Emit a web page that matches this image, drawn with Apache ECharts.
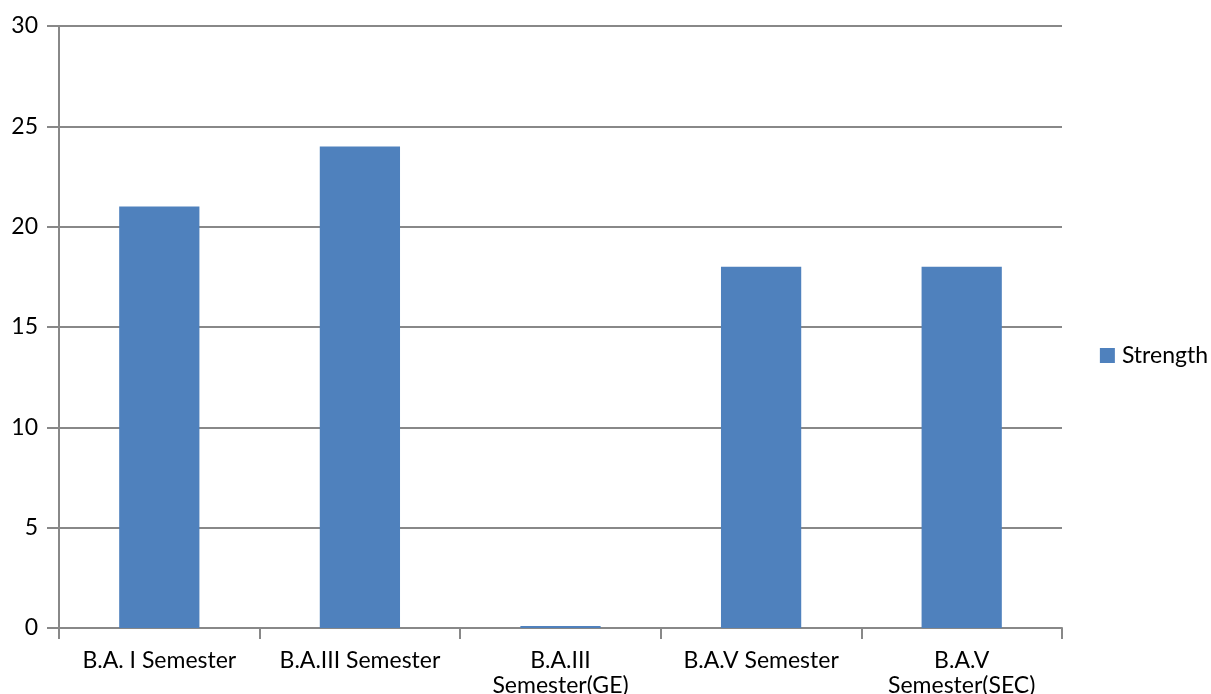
<!DOCTYPE html>
<html><head><meta charset="utf-8">
<script src="https://cdn.jsdelivr.net/npm/echarts@6/dist/echarts.min.js"></script>
<style>html,body{margin:0;padding:0;background:#fff}#c{width:1211px;height:694px}</style>
</head><body><div id="c"></div>
<script>
const categories = ["B.A. I Semester", "B.A.III Semester", "B.A.III\nSemester(GE)", "B.A.V Semester", "B.A.V\nSemester(SEC)"];
const strength = [21, 24, 0, 18, 18];
const seriesName = "Strength";

const chart = echarts.init(document.getElementById('c'));
chart.setOption({
  animation: false,
  textStyle: { fontFamily: 'Lato' },
  grid: { left: 59, right: 149, top: 26, bottom: 66, containLabel: false, outerBoundsMode: 'none' },
  legend: {
    right: 3, top: 344, orient: 'vertical', padding: 0,
    data: [seriesName], icon: 'rect', itemWidth: 15, itemHeight: 15, itemGap: 8,
    textStyle: { fontSize: 23, color: '#000', fontFamily: 'Lato', padding: [0, 0, 0, 2] }
  },
  xAxis: {
    type: 'category', data: categories,
    axisLine: { lineStyle: { color: '#888', width: 2 } },
    axisTick: { show: true, length: 11, alignWithLabel: false, lineStyle: { color: '#888', width: 2 } },
    axisLabel: { fontSize: 23, color: '#000', interval: 0, lineHeight: 25, margin: 20, fontFamily: 'Lato' }
  },
  yAxis: {
    type: 'value', min: 0, max: 30, interval: 5,
    axisLine: { show: true, lineStyle: { color: '#888', width: 2 } },
    axisTick: { show: true, length: 12, lineStyle: { color: '#888', width: 2 } },
    axisLabel: { fontSize: 23, color: '#000', margin: 21, fontFamily: 'Lato' },
    splitLine: { lineStyle: { color: '#888', width: 2 } }
  },
  series: [{
    name: seriesName, type: 'bar', data: strength, barWidth: '40%', barMinHeight: 2,
    itemStyle: { color: '#4F81BD' }
  }]
});
</script></body></html>
